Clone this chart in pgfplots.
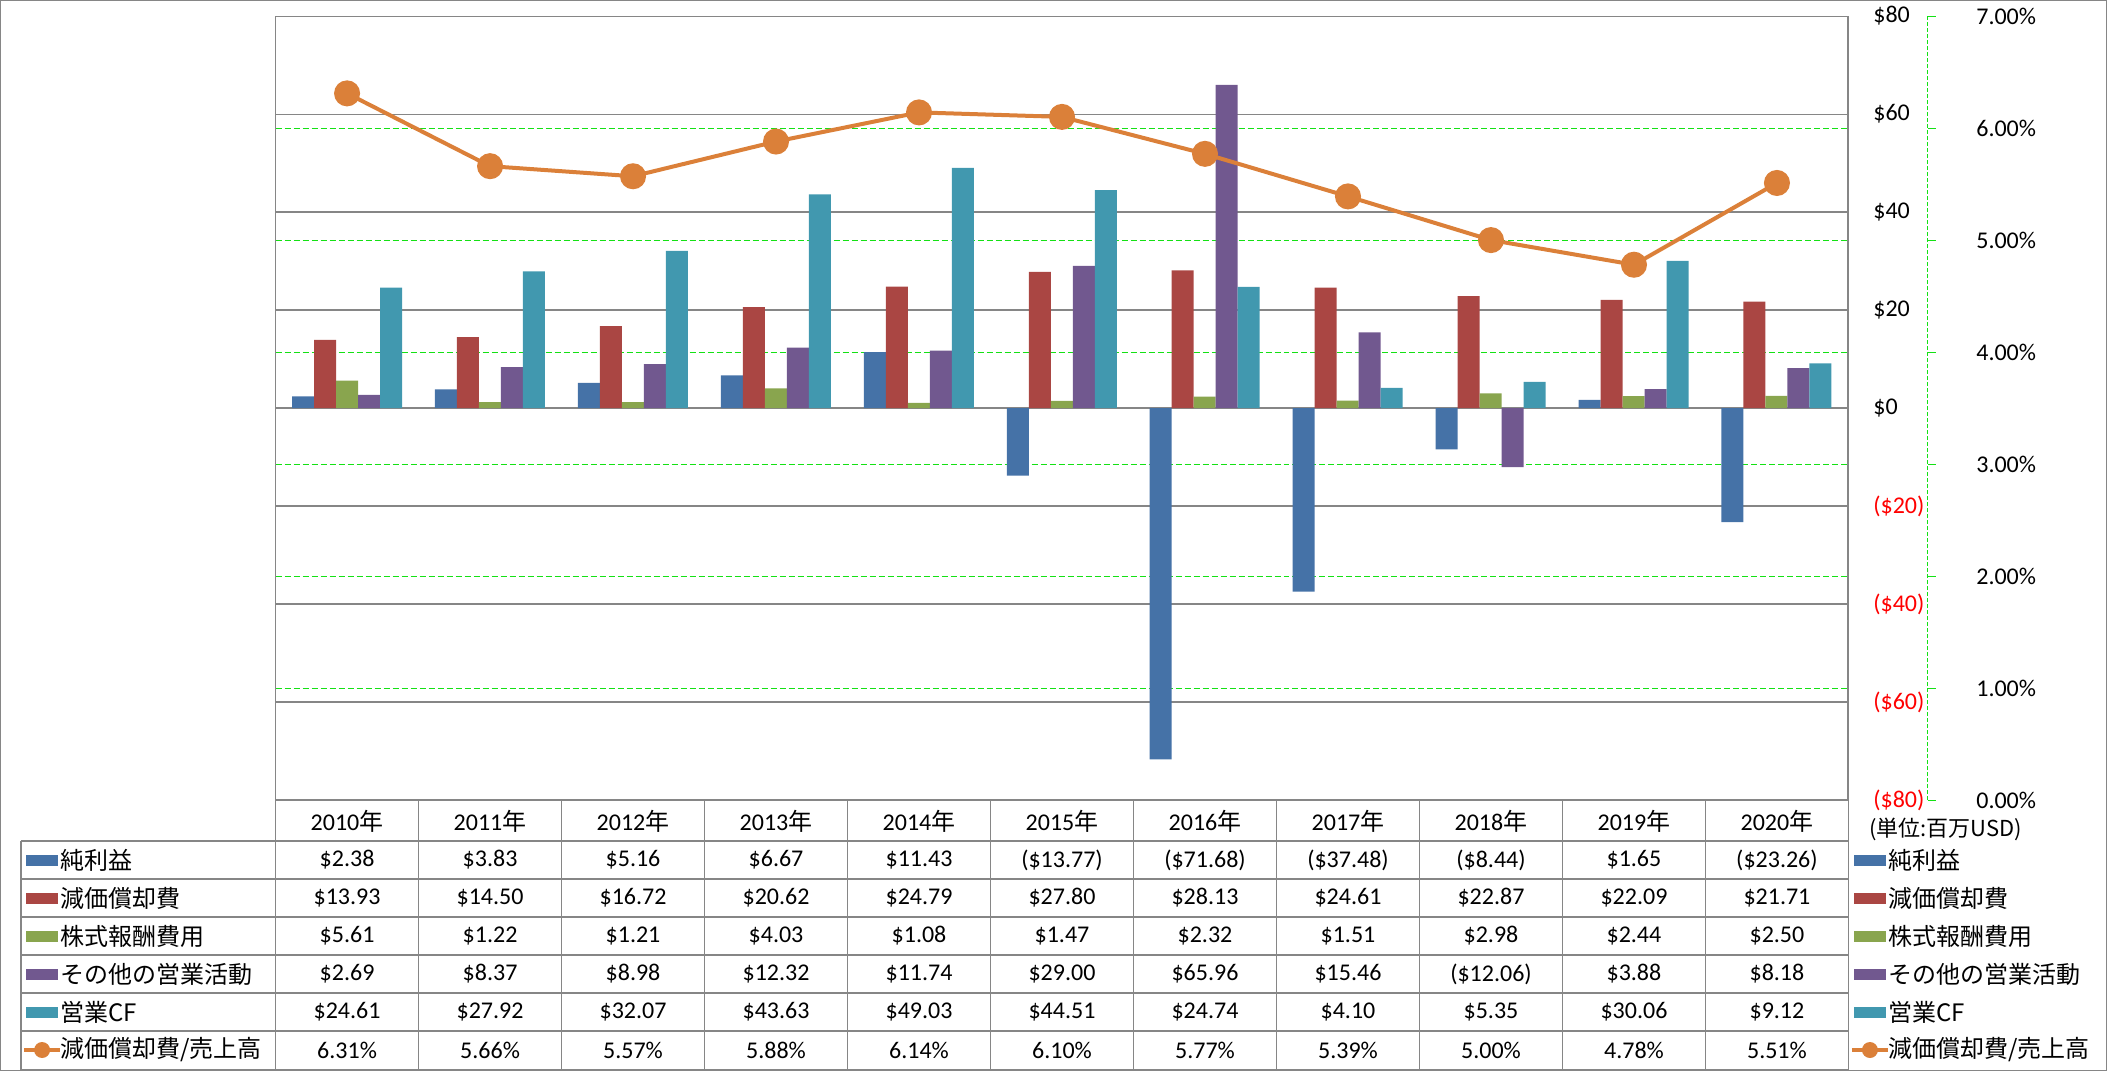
\documentclass[border=0pt]{standalone}
\usepackage{pgfplots}
\pgfplotsset{compat=1.18}
\usepackage{fontspec}
\setmainfont{Carlito}
\newfontfamily\jp{Noto Sans CJK JP}

\definecolor{cBlue}{RGB}{69,114,167}
\definecolor{cRed}{RGB}{170,70,67}
\definecolor{cGreen}{RGB}{137,165,78}
\definecolor{cPurple}{RGB}{113,88,143}
\definecolor{cTeal}{RGB}{65,152,175}
\definecolor{cOrange}{RGB}{219,128,57}
\definecolor{gridgray}{RGB}{134,134,134}
\definecolor{gridgreen}{RGB}{20,225,20}

% one table row: y position in px, then the eleven values
\newcommand\tabrow[2]{\foreach \v [count=\i from 0] in {#2} \node at ({347+143*\i},#1) {\v};}

\begin{document}
\begin{tikzpicture}
\pgfplotsset{every tick label/.append style={font=\fontsize{12}{14}\selectfont}}

% green percent grid (behind everything)
\begin{axis}[at={(137.75pt,-400pt)}, anchor=south west, scale only axis,
  width=786.25pt, height=392pt,
  xmin=0, xmax=1, ymin=0, ymax=7,
  xtick=\empty, ytick={1,...,6}, yticklabels={},
  major tick length=0pt,
  ymajorgrids, grid style={gridgreen, dash pattern=on 3pt off 1.5pt, line width=0.5pt},
  axis line style={draw=none}]
\end{axis}

% bars, dollar axis
\begin{axis}[at={(137.75pt,-400pt)}, anchor=south west, scale only axis,
  width=786.25pt, height=392pt,
  xmin=-0.5, xmax=10.5, ymin=-80, ymax=80,
  xtick=\empty, ytick={-80,-60,...,80},
  yticklabels={\textcolor{red}{(\$80)},\textcolor{red}{(\$60)},\textcolor{red}{(\$40)},\textcolor{red}{(\$20)},\$0,\$20,\$40,\$60,\$80},
  yticklabel pos=right,
  yticklabel style={anchor=west, inner sep=0pt, xshift=12.5pt},
  major tick length=0pt,
  ymajorgrids, grid style={gridgray, line width=0.6pt},
  axis line style={gridgray, line width=0.6pt},
  ybar=0pt, bar width=11pt]
\addplot[fill=cBlue, draw=none] coordinates {(0,2.38) (1,3.83) (2,5.16) (3,6.67) (4,11.43) (5,-13.77) (6,-71.68) (7,-37.48) (8,-8.44) (9,1.65) (10,-23.26)};
\addplot[fill=cRed, draw=none] coordinates {(0,13.93) (1,14.50) (2,16.72) (3,20.62) (4,24.79) (5,27.80) (6,28.13) (7,24.61) (8,22.87) (9,22.09) (10,21.71)};
\addplot[fill=cGreen, draw=none] coordinates {(0,5.61) (1,1.22) (2,1.21) (3,4.03) (4,1.08) (5,1.47) (6,2.32) (7,1.51) (8,2.98) (9,2.44) (10,2.50)};
\addplot[fill=cPurple, draw=none] coordinates {(0,2.69) (1,8.37) (2,8.98) (3,12.32) (4,11.74) (5,29.00) (6,65.96) (7,15.46) (8,-12.06) (9,3.88) (10,8.18)};
\addplot[fill=cTeal, draw=none] coordinates {(0,24.61) (1,27.92) (2,32.07) (3,43.63) (4,49.03) (5,44.51) (6,24.74) (7,4.10) (8,5.35) (9,30.06) (10,9.12)};
\end{axis}

% line, percent axis
\begin{axis}[at={(137.75pt,-400pt)}, anchor=south west, scale only axis,
  width=826.25pt, height=392pt,
  xmin=-0.5, xmax=11.0559, ymin=0, ymax=7,
  axis x line=none, axis y line*=right,
  axis line style={-, gridgreen, dash pattern=on 2pt off 1pt, line width=0.5pt},
  ytick={0,...,7},
  yticklabels={0.00\%,1.00\%,2.00\%,3.00\%,4.00\%,5.00\%,6.00\%,7.00\%},
  tick align=outside, major tick length=4pt,
  tick style={gridgreen, line width=0.5pt, solid},
  yticklabel style={anchor=west, inner sep=0pt, xshift=20pt},
  clip=false]
\addplot[cOrange, line width=2pt, mark=*, mark size=5.5pt, mark options={solid, fill=cOrange, draw=cOrange}]
  coordinates {(0,6.31) (1,5.66) (2,5.57) (3,5.88) (4,6.14) (5,6.10) (6,5.77) (7,5.39) (8,5.00) (9,4.78) (10,5.51)};
\end{axis}

% frame and data table (px units, y downwards)
\begin{scope}[x=0.5pt, y=-0.5pt, font=\fontsize{12}{14}\selectfont]
\draw[gridgray, line width=0.6pt] (0.5,0.5) rectangle (2106.5,1070.5);
\foreach \y in {841,879,917,955,993,1031,1070}
  \draw[gridgray, line width=0.6pt] (21,\y) -- (1848.5,\y);
\draw[gridgray, line width=0.6pt] (21,841) -- (21,1070);
\foreach \k in {0,...,11}
  \draw[gridgray, line width=0.6pt] ({275.5+143*\k},800) -- ({275.5+143*\k},1070);

\foreach \yr [count=\i from 0] in {2010,...,2020}
  \node at ({347+143*\i},821) {\yr{\jp 年}};

\tabrow{860}{\$2.38,\$3.83,\$5.16,\$6.67,\$11.43,(\$13.77),(\$71.68),(\$37.48),(\$8.44),\$1.65,(\$23.26)}
\tabrow{898}{\$13.93,\$14.50,\$16.72,\$20.62,\$24.79,\$27.80,\$28.13,\$24.61,\$22.87,\$22.09,\$21.71}
\tabrow{936}{\$5.61,\$1.22,\$1.21,\$4.03,\$1.08,\$1.47,\$2.32,\$1.51,\$2.98,\$2.44,\$2.50}
\tabrow{974}{\$2.69,\$8.37,\$8.98,\$12.32,\$11.74,\$29.00,\$65.96,\$15.46,(\$12.06),\$3.88,\$8.18}
\tabrow{1012}{\$24.61,\$27.92,\$32.07,\$43.63,\$49.03,\$44.51,\$24.74,\$4.10,\$5.35,\$30.06,\$9.12}
\tabrow{1050}{6.31\%,5.66\%,5.57\%,5.88\%,6.14\%,6.10\%,5.77\%,5.39\%,5.00\%,4.78\%,5.51\%}

% legend keys, left and right of the table
\foreach \xs/\xt in {26/60,1854/1888} {
  \fill[cBlue]   (\xs,855) rectangle ++(32,11);
  \fill[cRed]    (\xs,893) rectangle ++(32,11);
  \fill[cGreen]  (\xs,931) rectangle ++(32,11);
  \fill[cPurple] (\xs,969) rectangle ++(32,11);
  \fill[cTeal]   (\xs,1007) rectangle ++(32,11);
  \draw[cOrange, line width=2pt] (\xs-2,1050) -- ++(36,0);
  \fill[cOrange] ({\xs+16},1050) circle (4pt);
  \node[anchor=west, inner sep=0pt] at (\xt,860) {\jp 純利益};
  \node[anchor=west, inner sep=0pt] at (\xt,898) {\jp 減価償却費};
  \node[anchor=west, inner sep=0pt] at (\xt,936) {\jp 株式報酬費用};
  \node[anchor=west, inner sep=0pt] at (\xt,974) {\jp その他の営業活動};
  \node[anchor=west, inner sep=0pt] at (\xt,1012) {\jp 営業CF};
  \node[anchor=west, inner sep=0pt] at (\xt,1050) {\jp 減価償却費/売上高};
}
\node[anchor=west, inner sep=0pt, font=\fontsize{11}{13}\selectfont] at (1869,829) {\jp (単位:百万USD)};
\end{scope}
\end{tikzpicture}
\end{document}
